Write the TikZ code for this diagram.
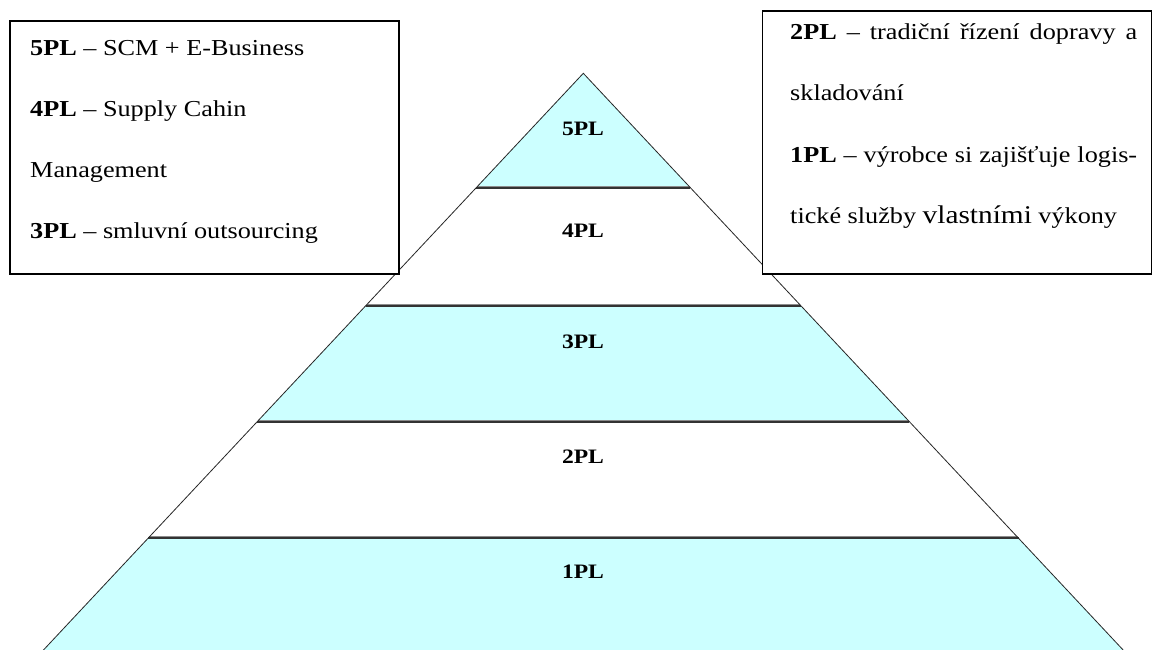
\documentclass[tikz,border=0pt]{standalone}
\usepackage{fontspec}
\setmainfont{Liberation Serif}[FakeStretch=1.15]
\definecolor{tierfill}{HTML}{CCFFFF}
\begin{document}
\begin{tikzpicture}[x=1pt,y=-1pt,
  sep/.style={line width=2.3pt, draw=black!80},
  sepshade/.style={line width=1.2pt, draw=black!45},
  outline/.style={line width=0.8pt, draw=black!85},
  tier/.style={font=\fontsize{20.5}{24}\selectfont\bfseries, anchor=base, inner sep=0pt},
  infobox/.style={draw=black, line width=1.5pt, fill=white, anchor=north west, inner sep=0pt},
  txt/.style={font=\fontsize{22.8}{26}\selectfont, anchor=base west, inner sep=0pt}]
\clip (0,0) rectangle (1153,649);
\fill[white] (0,0) rectangle (1153,649);

% shaded tiers of the pyramid (5PL, 3PL, 1PL)
\fill[tierfill] (583.3,73.3) -- (690.4,187.7) -- (476.2,187.7) -- cycle;
\fill[tierfill] (365.8,305.7) -- (800.8,305.7) -- (909.4,421.7) -- (257.2,421.7) -- cycle;
\fill[tierfill] (148.1,538.3) -- (1018.5,538.3) -- (1132.5,660) -- (34.1,660) -- cycle;

% tier separators: a light edge above a dark rule
\foreach \xl/\xr/\yy in {476.2/690.4/187.7, 365.8/800.8/305.7, 257.2/909.4/421.7, 148.1/1018.5/538.3} {
  \draw[sepshade] (\xl+1,\yy-1.4) -- (\xr-1,\yy-1.4);
  \draw[sep] (\xl,\yy) -- (\xr,\yy);
}

% pyramid sides
\draw[outline] (34.1,660) -- (583.3,73.3) -- (1132.5,660);

% tier labels
\node[tier] (t5) at (583,135) {5PL};
\node[tier] (t4) at (583,237) {4PL};
\node[tier] (t3) at (583,348) {3PL};
\node[tier] (t2) at (583,463) {2PL};
\node[tier] (t1) at (583,578) {1PL};

% left legend box
\node[infobox, minimum width=389pt, minimum height=253pt] (lbox) at (9,20) {};
\node[txt] (l1) at (30,55) {\textbf{5PL} – SCM + E-Business};
\node[txt] (l2) at (30,116.3) {\textbf{4PL} – Supply Cahin};
\node[txt] (l3) at (30,177.6) {Management};
\node[txt] (l4) at (30,238.9) {\textbf{3PL} – smluvní outsourcing};

% right legend box
\node[infobox, minimum width=389pt, minimum height=263pt] (rbox) at (761.7,10) {};
\node[txt] (r1) at (790,39.5) {\makebox[347pt][s]{\textbf{2PL} – tradiční řízení dopravy a}};
\node[txt] (r2) at (790,100.8) {skladování};
\node[txt] (r3) at (790,162.1) {\makebox[347pt][s]{\textbf{1PL} – výrobce si zajišťuje logis-}};
\node[txt] (r4) at (790,223.4) {tické služby {\fontsize{25.5}{28}\selectfont vlastními} výkony};
\end{tikzpicture}
\end{document}
